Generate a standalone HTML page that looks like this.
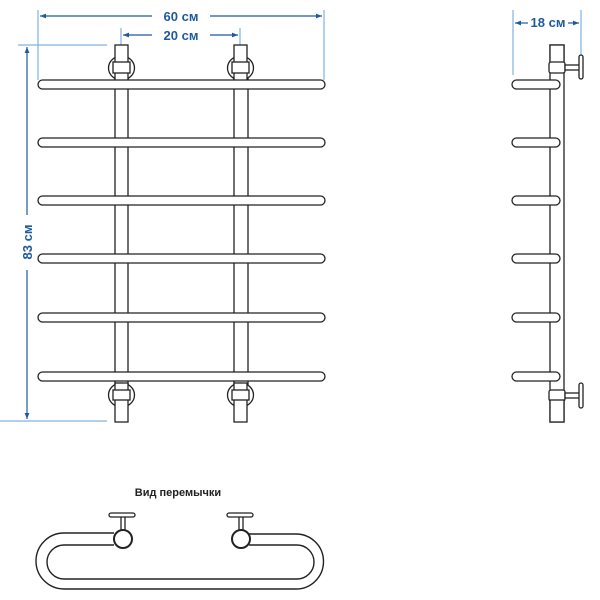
<!DOCTYPE html>
<html><head><meta charset="utf-8"><style>
html,body{margin:0;padding:0;background:#fff;}
svg{display:block;}
text{font-family:"Liberation Sans",sans-serif;font-weight:bold;fill:#1f5a9e;}
</style></head><body>
<svg width="600" height="600" viewBox="0 0 600 600" xmlns="http://www.w3.org/2000/svg">
<defs>
<marker id="a" viewBox="0 0 10 10" refX="10" refY="5" markerWidth="7" markerHeight="5" orient="auto-start-reverse"><path d="M0,1 L10,5 L0,9z" fill="#1f5a9e"/></marker>
</defs>
<g stroke="#7fb2de" stroke-width="1.2" fill="none">
<line x1="38" y1="10" x2="38" y2="80"/><line x1="324" y1="10" x2="324" y2="80"/>
<line x1="121" y1="28" x2="121" y2="45"/><line x1="240" y1="28" x2="240" y2="45"/>
<line x1="18" y1="45" x2="107" y2="45"/><line x1="0" y1="421" x2="107" y2="421"/>
<line x1="513" y1="10" x2="513" y2="75"/><line x1="581" y1="10" x2="581" y2="55"/>
</g>
<g stroke="#1f5a9e" stroke-width="1.2" fill="none">
<line x1="40" y1="16" x2="152" y2="16" marker-start="url(#a)"/><line x1="210" y1="16" x2="322" y2="16" marker-end="url(#a)"/>
<line x1="123" y1="35" x2="152" y2="35" marker-start="url(#a)"/><line x1="210" y1="35" x2="238" y2="35" marker-end="url(#a)"/>
<line x1="27" y1="47" x2="27" y2="215" marker-start="url(#a)"/><line x1="27" y1="270" x2="27" y2="419" marker-end="url(#a)"/>
<line x1="515" y1="23" x2="528" y2="23" marker-start="url(#a)"/><line x1="568" y1="23" x2="579" y2="23" marker-end="url(#a)"/>
</g>
<text x="181" y="21" font-size="13" text-anchor="middle">60 см</text>
<text x="181" y="40" font-size="13" text-anchor="middle">20 см</text>
<text x="548" y="27" font-size="13" text-anchor="middle">18 см</text>
<text transform="translate(32,242) rotate(-90)" font-size="13" text-anchor="middle">83 см</text>
<g stroke="#222" stroke-width="1.3" fill="#fff">
<!-- front rails -->
<rect x="115" y="70" width="13" height="330"/><rect x="234" y="70" width="14" height="330"/>
<!-- top fittings -->
<g id="tf">
<ellipse cx="121.5" cy="68" rx="13" ry="12"/>
<rect x="115" y="45" width="13" height="36"/>
<rect x="113" y="62" width="17" height="11"/>
</g>
<use href="#tf" transform="translate(119,0)"/>
<g id="bf">
<ellipse cx="121.5" cy="395" rx="13" ry="12"/>
<rect x="115" y="383" width="13" height="39"/>
<rect x="113" y="390" width="17" height="10"/>
</g>
<use href="#bf" transform="translate(119,0)"/>
<!-- bars -->
<rect x="38" y="80" width="287" height="9" rx="4.5"/>
<rect x="38" y="138" width="287" height="9" rx="4.5"/>
<rect x="38" y="196" width="287" height="9" rx="4.5"/>
<rect x="38" y="254" width="287" height="9" rx="4.5"/>
<rect x="38" y="313" width="287" height="9" rx="4.5"/>
<rect x="38" y="372" width="287" height="9" rx="4.5"/>
<!-- side view -->
<rect x="550" y="45" width="14" height="377"/>
<rect x="550" y="45" width="14" height="20"/>
<rect x="549" y="62" width="16" height="11" rx="2"/>
<rect x="565" y="65" width="15" height="5"/>
<rect x="579" y="55" width="4" height="24" rx="2"/>
<rect x="512" y="80" width="48" height="9" rx="4.5"/>
<rect x="512" y="138" width="48" height="9" rx="4.5"/>
<rect x="512" y="196" width="48" height="9" rx="4.5"/>
<rect x="512" y="254" width="48" height="9" rx="4.5"/>
<rect x="512" y="313" width="48" height="9" rx="4.5"/>
<rect x="512" y="372" width="48" height="9" rx="4.5"/>
<rect x="549" y="390" width="16" height="11" rx="2"/>
<rect x="550" y="400" width="14" height="22"/>
<rect x="565" y="393" width="15" height="5"/>
<rect x="579" y="383" width="4" height="25" rx="2"/>
</g>
<text x="178" y="496" font-size="11" text-anchor="middle" style="fill:#222">Вид перемычки</text>
<g stroke="#222" stroke-width="1.4" fill="none">
<path d="M114,533 H64 A27.5,27.5 0 0 0 64,589 H296 A27.5,27.5 0 0 0 296,534 H249"/>
<path d="M114,545 H64 A17,17 0 0 0 64,579 H297 A17,17 0 0 0 297,545 H249"/>
</g>
<g stroke="#222" stroke-width="1.3" fill="#fff">
<rect x="121" y="516" width="4" height="16"/><rect x="109" y="513" width="26" height="4" rx="2"/>
<circle cx="123" cy="539" r="9" stroke-width="2"/>
<rect x="239" y="516" width="4" height="16"/><rect x="227" y="513" width="26" height="4" rx="2"/>
<circle cx="241" cy="539" r="9" stroke-width="2"/>
</g>
</svg>
</body></html>
